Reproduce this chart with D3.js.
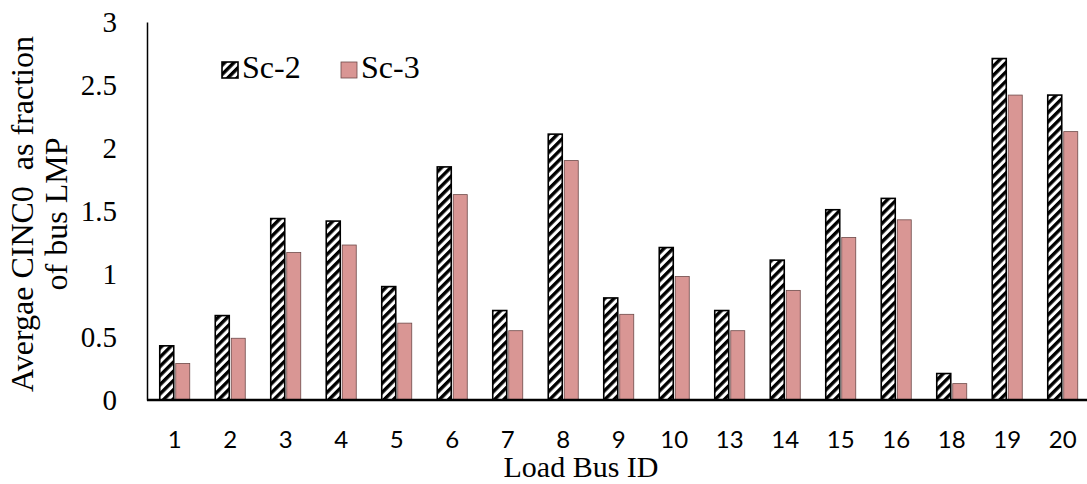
<!DOCTYPE html>
<html>
<head>
<meta charset="utf-8">
<script src="https://cdn.jsdelivr.net/npm/d3@7"></script>
<style>
  body { margin: 0; background: #fff; }
  svg { display: block; }
</style>
</head>
<body>
<div id="chart"></div>
<script>
var busIds = ['1', '2', '3', '4', '5', '6', '7', '8', '9', '10', '13', '14', '15', '16', '18', '19', '20'];
var sc2 = [0.43, 0.67, 1.44, 1.42, 0.90, 1.85, 0.71, 2.11, 0.81, 1.21, 0.71, 1.11, 1.51, 1.60, 0.21, 2.71, 2.42];
var sc3 = [0.29, 0.49, 1.17, 1.23, 0.61, 1.63, 0.55, 1.90, 0.68, 0.98, 0.55, 0.87, 1.29, 1.43, 0.13, 2.42, 2.13];
var yTicks = [0, 0.5, 1, 1.5, 2, 2.5, 3];
var seriesNames = ['Sc-2', 'Sc-3'];

var W = 1087, H = 484;
var m = {left: 147, top: 22, right: 0, bottom: 84};
var serif = '"Liberation Serif", "Times New Roman", serif';

var svg = d3.select('#chart').append('svg')
    .attr('width', W)
    .attr('height', H);

// hatch pattern for Sc-2
var defs = svg.append('defs');
var pat = defs.append('pattern')
    .attr('id', 'hatch')
    .attr('patternUnits', 'userSpaceOnUse')
    .attr('width', 6.5)
    .attr('height', 6.5)
    .attr('patternTransform', 'rotate(45)');
pat.append('rect').attr('width', 6.5).attr('height', 6.5).attr('fill', '#fff');
pat.append('rect').attr('width', 3.4).attr('height', 6.5).attr('fill', '#000');

var x = d3.scaleBand()
    .domain(busIds)
    .range([m.left, m.left + 17 * 55.5])
    .paddingInner(0)
    .paddingOuter(0);

var y = d3.scaleLinear()
    .domain([0, 3])
    .range([400, m.top]);

var barW = 14, gap = 2;

var g = svg.append('g');

// Sc-2 bars
g.selectAll('.b2')
    .data(busIds)
    .enter().append('rect')
    .attr('class', 'b2')
    .attr('x', function(d) { return x(d) + x.bandwidth() / 2 - barW - gap / 2; })
    .attr('y', function(d, i) { return y(sc2[i]); })
    .attr('width', barW)
    .attr('height', function(d, i) { return y(0) - y(sc2[i]); })
    .attr('fill', 'url(#hatch)')
    .attr('stroke', '#000')
    .attr('stroke-width', 1.6);

// Sc-3 bars
g.selectAll('.b3')
    .data(busIds)
    .enter().append('rect')
    .attr('class', 'b3')
    .attr('x', function(d) { return x(d) + x.bandwidth() / 2 + gap / 2; })
    .attr('y', function(d, i) { return y(sc3[i]); })
    .attr('width', barW)
    .attr('height', function(d, i) { return y(0) - y(sc3[i]); })
    .attr('fill', '#d99694')
    .attr('stroke', '#6e4a49')
    .attr('stroke-width', 0.8);

// y axis
var yAxis = d3.axisLeft(y)
    .tickValues(yTicks)
    .tickSize(0)
    .tickPadding(30)
    .tickFormat(function(d) { return d; });

var ya = svg.append('g')
    .attr('transform', 'translate(' + m.left + ',0)')
    .call(yAxis);
ya.select('.domain').attr('stroke', '#000').attr('stroke-width', 1.5);
ya.selectAll('text')
    .attr('font-family', serif)
    .attr('font-size', 29)
    .attr('fill', '#000');

// x axis
var xAxis = d3.axisBottom(x).tickSize(0).tickPadding(31);
var xa = svg.append('g')
    .attr('transform', 'translate(0,400)')
    .call(xAxis);
xa.select('.domain').remove();
xa.append('line')
    .attr('x1', m.left).attr('x2', W)
    .attr('y1', 0).attr('y2', 0)
    .attr('stroke', '#000').attr('stroke-width', 2.5);
xa.selectAll('text')
    .attr('font-family', 'Lato, "Open Sans", sans-serif')
    .attr('font-size', 24)
    .attr('fill', '#000');

// axis titles
svg.append('text')
    .attr('x', 581).attr('y', 477)
    .attr('text-anchor', 'middle')
    .attr('font-family', serif)
    .attr('font-size', 30)
    .text('Load Bus ID');

var yl = svg.append('text')
    .attr('transform', 'translate(33,214) rotate(-90)')
    .attr('text-anchor', 'middle')
    .attr('font-family', serif)
    .attr('font-size', 32);
yl.append('tspan').attr('x', 0).attr('y', 0).text('Avergae CINC0\u00a0 as fraction');
yl.append('tspan').attr('x', 0).attr('y', 34).text('of bus LMP');

// legend
var legend = svg.append('g');
var lx = [222, 341];
seriesNames.forEach(function(name, i) {
    legend.append('rect')
        .attr('x', lx[i]).attr('y', 62)
        .attr('width', 16).attr('height', 16)
        .attr('fill', i === 0 ? 'url(#hatch)' : '#d99694')
        .attr('stroke', i === 0 ? '#000' : '#6e4a49')
        .attr('stroke-width', i === 0 ? 1.6 : 0.8);
    legend.append('text')
        .attr('x', lx[i] + 20).attr('y', 78)
        .attr('font-family', serif)
        .attr('font-size', 32)
        .text(name);
});
</script>
</body>
</html>
